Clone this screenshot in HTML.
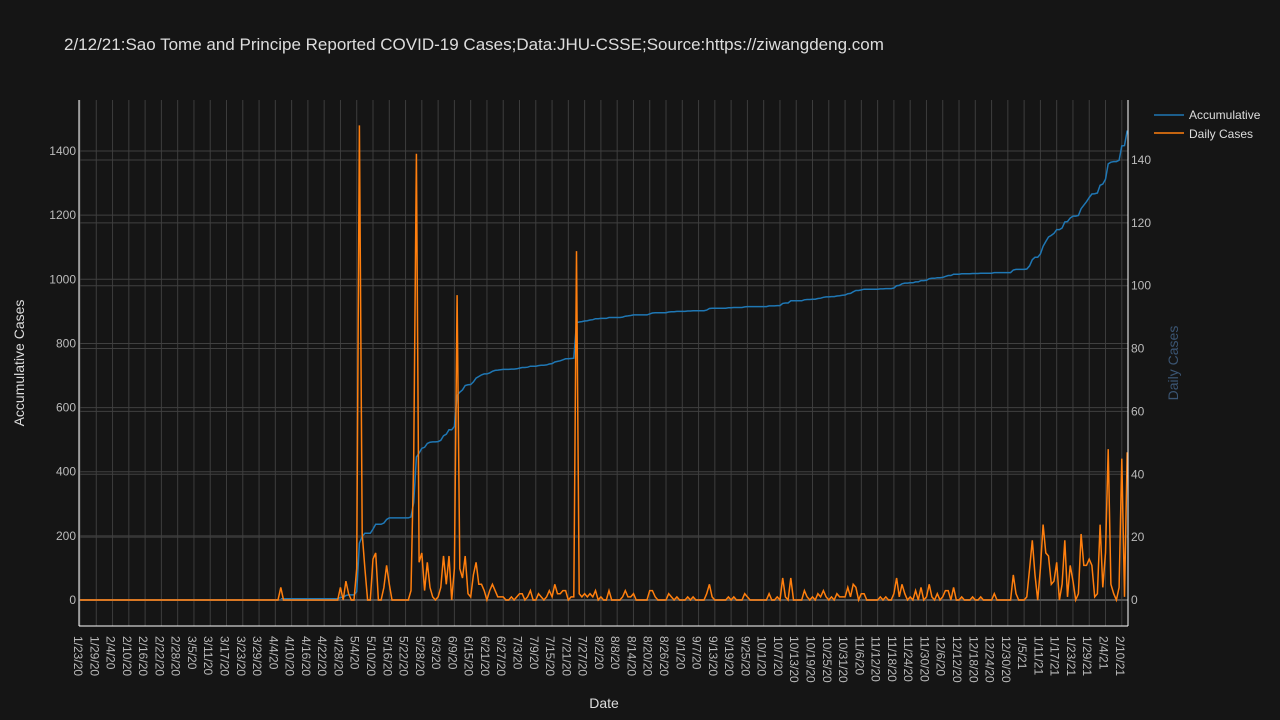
<!DOCTYPE html>
<html><head><meta charset="utf-8"><style>
html,body{margin:0;background:#151515;width:1280px;height:720px;overflow:hidden;font-family:"Liberation Sans",sans-serif}
svg{display:block}
svg text{font-family:"Liberation Sans",sans-serif}
</style></head><body>
<svg id="chart" width="1280" height="720" xmlns="http://www.w3.org/2000/svg">
<rect width="1280" height="720" fill="#151515"/>
<text x="64" y="50" font-size="17" fill="#dddddd">2/12/21:Sao Tome and Principe Reported COVID-19 Cases;Data:JHU-CSSE;Source:https://ziwangdeng.com</text>
<g id="grid"></g><g id="series"></g><g id="axes"></g>
<text transform="translate(24,363) rotate(-90)" text-anchor="middle" font-size="14" fill="#dddddd">Accumulative Cases</text>
<text transform="translate(1178,363) rotate(-90)" text-anchor="middle" font-size="14" fill="#3b5573">Daily Cases</text>
<text x="604" y="708" text-anchor="middle" font-size="14" fill="#dddddd">Date</text>
<g>
<g><line x1="1154" y1="115" x2="1184" y2="115" stroke="#1f77b4" stroke-width="1.5"/><text x="1189" y="119" font-size="12" fill="#dddddd">Accumulative</text></g>
<g><line x1="1154" y1="133" x2="1184" y2="133" stroke="#ff7f0e" stroke-width="1.5"/><text x="1189" y="138" font-size="12" fill="#dddddd">Daily Cases</text></g>
</g>
</svg>
<script>
const startDate=[2020,0,23];
const cumStartDay=74;
const dailyCases=[
0,0,0,0,0,0,0,0,0,0,0,0,0,0,0,0,0,0,0,0,0,0,0,0,0,0,0,0,0,0,0,0,0,0,0,0,0,0,0,0,0,0,0,0,0,0,0,0,0,0,0,0,0,0,0,0,0,0,0,0,0,0,0,0,0,0,0,0,0,0,0,0,0,0,
4,0,0,0,0,0,0,0,0,0,0,0,0,0,0,0,0,0,0,0,0,0,
4,0,6,2,0,0,10,151,21,10,0,0,13,15,0,0,4,11,5,0,0,0,0,0,0,0,3,45,142,
12,15,3,12,4,1,0,1,4,14,5,14,0,10,97,10,7,14,2,1,8,12,
5,5,3,0,3,5,3,1,1,1,0,0,1,0,1,2,2,0,1,3,0,0,2,1,0,1,3,1,5,2,2,3,3,0,1,1,
111,
2,1,2,1,2,1,3,0,1,0,0,3,0,0,0,0,1,3,1,1,2,0,0,0,0,0,3,3,1,0,0,0,0,2,1,0,1,0,0,0,1,0,1,0,0,0,0,2,5,1,0,
0,0,0,0,1,0,1,0,0,0,2,1,0,0,0,0,0,0,0,2,0,0,1,0,
7,1,0,7,0,
0,0,0,3,1,0,1,0,2,1,3,1,0,1,0,2,1,1,1,4,1,5,4,0,2,2,0,
0,0,0,0,1,0,1,0,0,
2,7,1,5,2,
0,1,0,3,0,4,0,1,5,1,0,2,0,1,3,3,0,4,
0,0,1,0,0,0,1,0,0,1,0,0,0,0,2,0,0,0,0,0,0,
8,2,0,0,0,1,10,19,8,0,10,24,15,14,5,6,12,0,5,19,1,11,6,0,2,21,11,11,13,11,1,2,24,4,15,48,5,2,0,4,45,1,47];
const leftTicks=[0,200,400,600,800,1000,1200,1400];
const rightTicks=[0,20,40,60,80,100,120,140];
const tickEvery=6;

const X0=80,PX=2.713,TOP=100,BOT=626,L=79,R=1128;
const xs=d=>X0+d*PX;
const yL=v=>600-v*0.3207;
const yR=v=>600-v*3.143;
const NS='http://www.w3.org/2000/svg';
function mk(tag,attrs,parent){const e=document.createElementNS(NS,tag);for(const k in attrs)e.setAttribute(k,attrs[k]);parent.appendChild(e);return e;}
const grid=document.getElementById('grid'),series=document.getElementById('series'),axes=document.getElementById('axes');

for(let d=0;d<dailyCases.length;d+=tickEvery){
  const x=xs(d);
  const g=mk('line',{x1:x,y1:TOP,x2:x,y2:BOT,stroke:'#3d3d3d','stroke-width':1},grid);
  
  
  const dt=new Date(startDate[0],startDate[1],startDate[2]+d);
  const lbl=(dt.getMonth()+1)+'/'+dt.getDate()+'/'+String(dt.getFullYear()).slice(2);
  const t=mk('text',{transform:`translate(${x-6},636) rotate(90)`,'font-size':12,fill:'#bbbbbb'},axes);
  t.textContent=lbl;
  
  
}
leftTicks.forEach(v=>{
  const y=yL(v);
  const g=mk('line',{x1:L,y1:y,x2:R,y2:y,stroke:v===0?'#666':'#404040','stroke-width':v===0?2:1},grid);
  
  
  const t=mk('text',{x:76,y:y+4,'text-anchor':'end','font-size':12,fill:'#bbbbbb'},axes);
  t.textContent=v;
  
  
});
rightTicks.forEach(v=>{
  const y=yR(v);
  const g=mk('line',{x1:L,y1:y,x2:R,y2:y,stroke:'#404040','stroke-width':1},grid);
  
  
  const t=mk('text',{x:1131,y:y+4,'font-size':12,fill:'#bbbbbb'},axes);
  t.textContent=v;
  
  
});
const al=mk('line',{x1:L,y1:TOP,x2:L,y2:BOT,stroke:'#ffffff','stroke-width':1},axes);

const ar=mk('line',{x1:R,y1:TOP,x2:R,y2:BOT,stroke:'#ffffff','stroke-width':1},axes);

const ab=mk('line',{x1:L,y1:BOT,x2:R,y2:BOT,stroke:'#ffffff','stroke-width':1},axes);


let cum=0,pc=[];
dailyCases.forEach((v,d)=>{cum+=v;if(d>=cumStartDay)pc.push(xs(d).toFixed(1)+','+yL(cum).toFixed(1));});
const pl=mk('polyline',{points:pc.join(' '),fill:'none',stroke:'#1f77b4','stroke-width':1.5},series);


const pd=dailyCases.map((v,d)=>xs(d).toFixed(1)+','+yR(v).toFixed(1));
const dl=mk('polyline',{points:pd.join(' '),fill:'none',stroke:'#ff7f0e','stroke-width':1.5},series);


</script>
</body></html>
